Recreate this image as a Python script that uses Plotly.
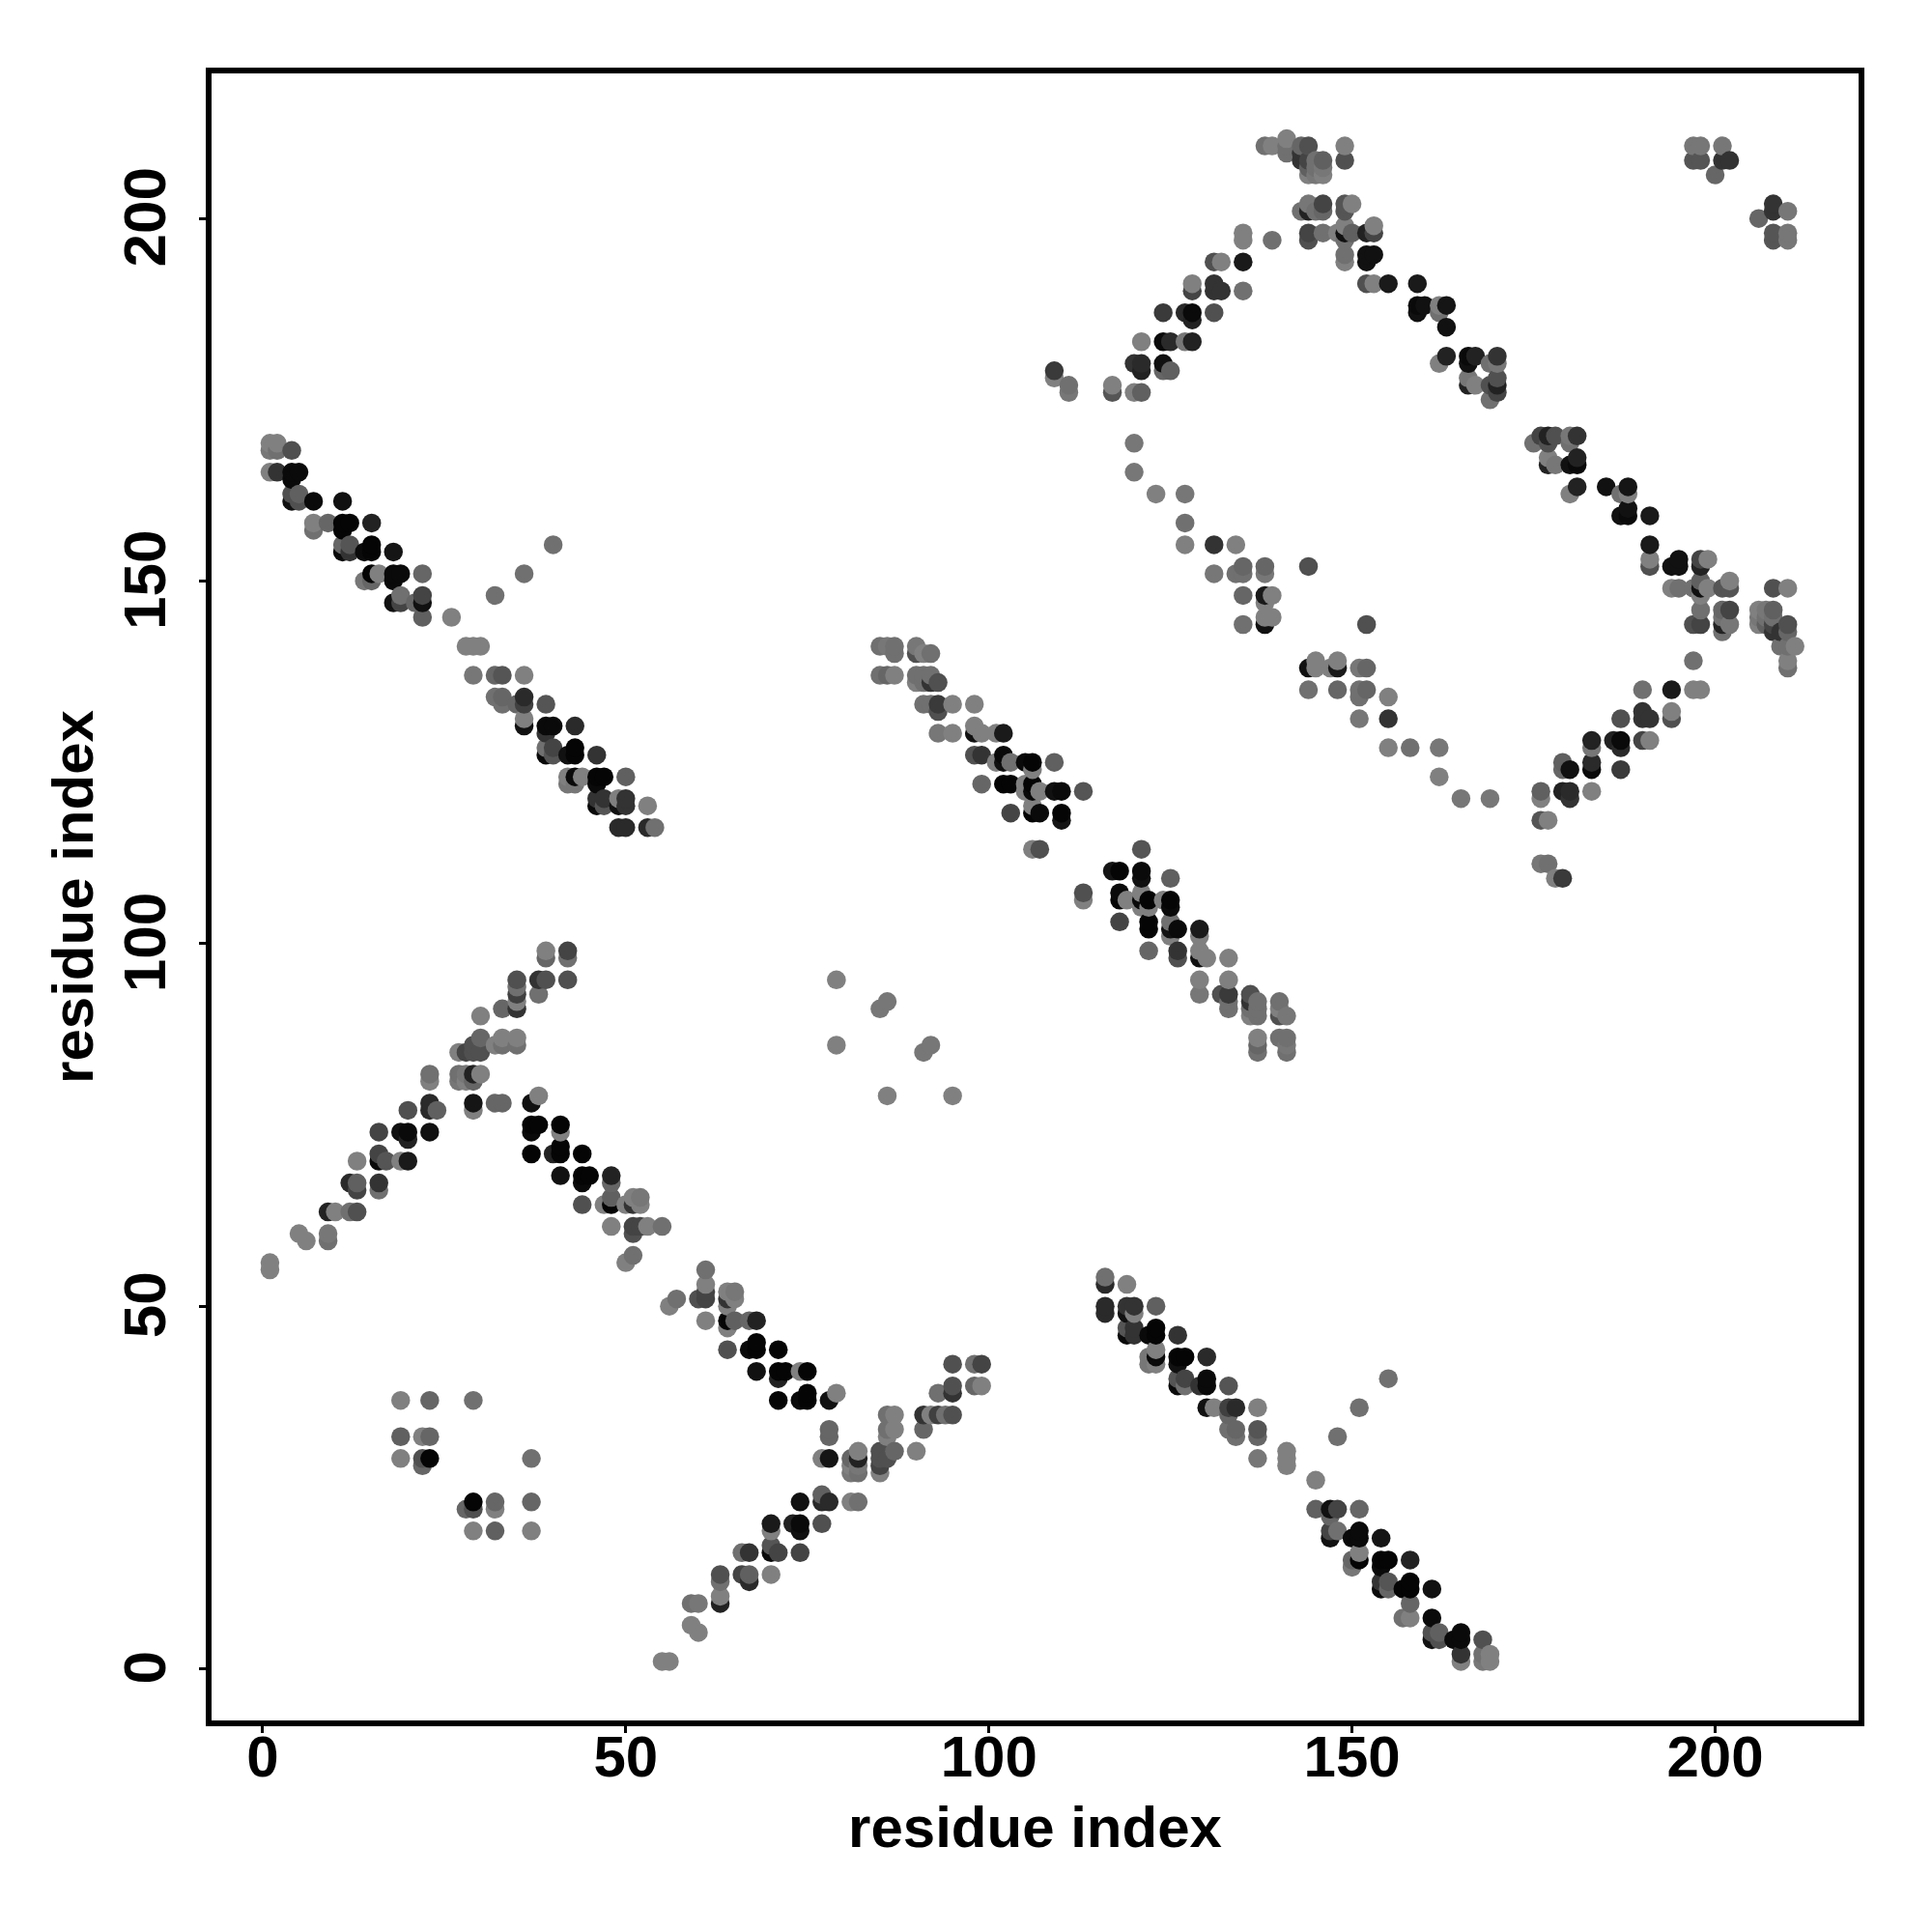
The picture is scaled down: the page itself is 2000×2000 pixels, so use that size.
import plotly.graph_objects as go

# Contacts above the diagonal: residue i, residue j, grey level (0-255)
strand_a_i = [1,2,1,2,4,1,2,4,5,4,4,5,4,5,7,11,7,9,11,12,15,7,11,11,12,15,11,12,14,15,18,14,15,16,15,18,19,18,22,18,19,19,21,22,22,22,26,32,36,40,28,29,30,29,32,33,36,32,33,33,35,36,36,39,36,36,39,40,39,43,39,40,39,40,42,43,43,46,42,43,44,42,43,46,47,46,50,46,47,46,47,49,50,49,50,53,49,50,53,54]
strand_a_j = [169,169,168,168,168,165,165,165,165,164,162,162,161,161,161,161,158,158,158,158,158,157,157,155,155,155,154,154,154,154,154,150,151,151,150,151,151,150,151,147,148,147,147,148,147,145,145,148,151,155,141,141,141,137,137,137,137,134,134,133,133,134,133,133,131,130,130,130,129,130,127,127,126,126,126,127,126,126,123,123,123,122,122,123,123,122,123,120,120,119,119,120,120,119,119,119,116,116,116,116]
strand_a_g = [128,128,119,112,80,128,51,10,10,10,80,96,17,80,10,17,128,102,5,5,34,112,5,102,85,5,10,51,10,5,21,119,5,128,102,10,10,10,102,17,112,68,102,68,17,96,128,112,112,112,128,128,128,119,102,85,128,112,102,112,102,42,64,85,128,17,10,10,51,42,112,68,10,85,17,5,5,51,128,10,128,119,119,5,5,10,96,51,51,10,85,128,51,17,51,128,42,42,42,112]

strand_b_i = [1,1,5,6,9,9,9,10,12,13,12,13,13,16,16,16,16,17,13,19,20,16,19,20,20,23,23,23,24,20,23,23,29,29,32,33,27,28,29,30,27,28,29,27,28,29,30,29,30,32,33,33,35,35,30,33,35,35,35,38,35,35,38,39,42,39,42,39,42]
strand_b_j = [56,55,60,59,60,59,63,63,63,63,67,67,66,67,66,71,70,70,70,70,70,74,74,74,73,74,78,77,77,77,82,81,78,77,78,78,82,82,82,82,81,81,81,85,85,85,85,86,87,86,86,87,86,87,90,91,91,92,93,93,94,95,95,95,95,98,98,99,99]
strand_b_g = [128,128,128,128,119,112,34,128,112,80,42,96,68,51,112,68,10,85,128,128,26,68,17,10,34,17,42,42,96,80,112,128,21,128,102,102,112,119,34,128,119,128,102,128,68,80,80,80,102,128,112,128,112,128,128,102,51,128,64,112,112,80,51,80,80,102,112,128,68]

strand_c_i = [37,38,37,38,37,41,41,37,40,41,41,44,41,44,45,44,48,48,44,48,47,48,50,51,52,51,52,48,51,52,53,55,51,50,51]
strand_c_j = [78,79,75,75,74,75,74,71,71,72,71,71,68,68,68,67,68,67,64,65,64,64,64,64,64,65,65,61,61,61,61,61,60,56,57]
strand_c_g = [17,128,5,5,10,5,128,5,34,5,5,5,17,5,5,10,34,102,80,96,128,5,128,51,128,128,119,128,68,68,128,112,80,128,112]

strand_d_i = [85,86,87,87,90,90,91,92,85,86,87,90,91,92,90,91,92,93,91,92,93,93,95,98,93,95,98,98,99,101,102,98,99,102,102,101,103,105,106,106,109,99,102,103,105,106,106,105,107,109,110,113,103,106,106,107,110,110,106,107]
strand_d_j = [141,141,141,140,141,140,140,140,137,137,137,137,137,137,136,136,136,136,133,133,133,132,133,133,129,129,130,129,129,129,129,126,126,126,125,125,125,125,125,124,125,122,122,122,122,122,121,121,121,121,121,121,118,119,118,118,118,117,113,113]
strand_d_g = [112,119,112,112,119,80,128,112,112,102,128,112,112,112,128,112,51,80,112,112,58,80,128,128,119,128,128,17,128,128,26,80,51,10,17,128,112,10,5,128,96,102,5,5,128,5,10,128,128,17,10,85,68,128,5,10,5,21,128,80]

strand_e_i = [109,109,111,111,117,117,120,121,120,121,121,124,124,125,121,124,125,127,128,124,127,128,128,131,128,128,131,131,132,135,131,132,135,135,135,139,120]
strand_e_j = [179,178,177,176,177,176,176,176,180,180,179,180,179,179,183,183,183,183,183,187,187,187,186,187,191,190,191,190,190,190,194,194,194,198,197,197,169]
strand_e_g = [58,128,112,119,128,85,128,96,51,42,34,17,102,96,128,10,42,119,34,58,42,10,34,80,128,68,51,51,51,112,80,128,26,128,128,112,119]

strand_f_i = [138,139,141,141,141,143,144,143,143,144,144,144,145,146,145,146,145,146,149,149,144,146,149,150,143,144,145,146,149,144,144,146,148,149,150,149,149,149,149,152,153,153,152,153,152,152,153,155,159,159,160,159,162,163,162,163,163,162,166,167,166,169,170,170,166,166,167,170,169,170,170,169]
strand_f_j = [210,210,211,210,209,210,210,209,208,208,207,206,208,208,207,207,206,206,210,208,202,202,202,202,201,201,201,201,201,198,197,198,198,198,198,199,197,195,194,198,198,199,195,195,194,191,191,191,191,188,188,187,188,188,187,185,181,180,181,181,180,180,181,180,178,177,177,178,177,177,176,175]
strand_f_g = [112,128,128,112,112,102,80,51,51,68,96,128,112,96,112,119,119,128,128,80,119,68,85,128,112,34,112,102,85,68,80,112,128,17,96,128,112,112,128,34,68,128,17,17,17,80,128,26,26,10,17,17,128,21,112,17,34,128,10,34,17,112,51,119,119,34,128,80,80,34,68,112]

strand_g_i = [120,120,123,127,127,127,131,134,131,135,138,144,134,135,138,135,138,139,138,135,138,139,138]
strand_g_j = [169,165,162,162,158,155,155,155,151,152,152,152,151,151,151,148,148,148,147,144,145,145,144]
strand_g_g = [119,119,128,119,112,128,51,128,119,102,102,80,112,112,119,102,26,128,128,112,128,128,17]

strand_h_i = [197,198,201,197,198,200,201,202]
strand_h_j = [210,210,210,208,208,206,208,208]
strand_h_g = [119,119,119,85,85,102,51,51]

cluster_a_i = [19,23,29,19,22,23,19,22,23,22]
cluster_a_j = [37,37,37,32,32,32,29,29,29,28]
cluster_a_g = [128,102,112,96,128,102,128,80,5,102]

cluster_b_i = [79,79,85,86]
cluster_b_j = [95,86,91,92]
cluster_b_g = [128,128,119,119]

all_i = strand_a_i + strand_b_i + strand_c_i + strand_d_i + strand_e_i + strand_f_i + strand_g_i + strand_h_i + cluster_a_i + cluster_b_i
all_j = strand_a_j + strand_b_j + strand_c_j + strand_d_j + strand_e_j + strand_f_j + strand_g_j + strand_h_j + cluster_a_j + cluster_b_j
all_g = strand_a_g + strand_b_g + strand_c_g + strand_d_g + strand_e_g + strand_f_g + strand_g_g + strand_h_g + cluster_a_g + cluster_b_g
assert len(all_i) == len(all_j) == len(all_g)

# The contact map is symmetric; points overlap in order of x, then y
points = sorted(set(zip(all_i, all_j, all_g)) | set(zip(all_j, all_i, all_g)))
xs = [p[0] for p in points]
ys = [p[1] for p in points]
colors = [f"rgb({p[2]},{p[2]},{p[2]})" for p in points]

tick_vals = [0, 50, 100, 150, 200]
axis_title = "residue index"
FONT = "Liberation Sans"

fig = go.Figure(go.Scatter(
    x=xs, y=ys, mode="markers",
    marker=dict(size=19.5, color=colors, line=dict(width=0)),
    hoverinfo="skip", cliponaxis=False,
))


def axis(tick_size, **kw):
    return dict(
        tickvals=tick_vals, ticks="outside", ticklen=7, tickwidth=3, tickcolor="black",
        showline=True, linewidth=5.5, linecolor="black", mirror=True,
        showgrid=False, zeroline=False,
        tickfont=dict(family=FONT, size=tick_size, color="black", weight="bold"),
        **kw,
    )


fig.update_layout(
    width=2000, height=2000, autosize=False,
    margin=dict(l=211, r=84, t=67.5, b=227, pad=0),
    paper_bgcolor="white", plot_bgcolor="white", showlegend=False,
    xaxis=axis(60, range=[-7.04, 219.75], ticklabelstandoff=-27,
               title=dict(text=axis_title, standoff=21,
                          font=dict(family=FONT, size=60, color="black", weight="bold"))),
    yaxis=axis(62, range=[-7.13, 220.0], tickangle=-90, ticklabelstandoff=10, ticklabelshift=8,
               title=dict(text=axis_title, standoff=1,
                          font=dict(family=FONT, size=60, color="black", weight="bold"))),
)

fig.write_html("out.html")
